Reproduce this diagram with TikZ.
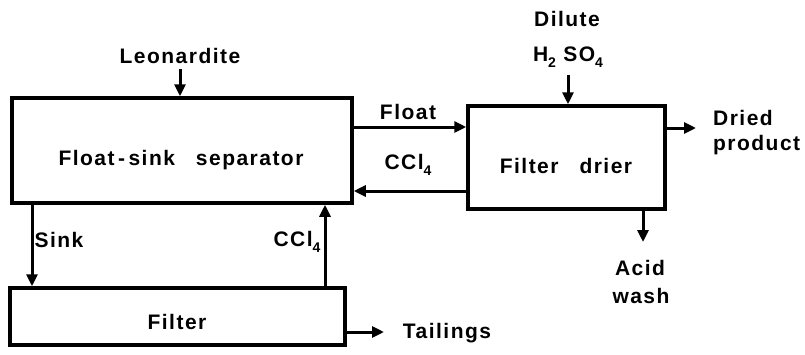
\documentclass[tikz,border=0pt]{standalone}
\usepackage{fontspec}
\setmainfont{Liberation Sans}[LetterSpace=7]
\usetikzlibrary{arrows.meta}
\newcommand{\subsc}[1]{\raisebox{-0.5ex}{\fontsize{14}{14}\selectfont #1}}
\begin{document}
\begin{tikzpicture}[x=1pt,y=-1pt,
  box/.style={draw,line width=3.5pt,inner sep=0pt},
  flow/.style={line width=3pt,-{Triangle[length=12pt,width=11pt]}},
  lbl/.style={font=\fontsize{21}{24}\selectfont\bfseries,inner sep=0pt,align=left}]
\useasboundingbox (0,0) rectangle (805,354);
% boxes
\node[box,minimum width=340pt,minimum height=105pt] (sep) at (182,150.5) {};
\node[box,minimum width=197pt,minimum height=103pt] (drier) at (566.5,157.5) {};
\node[box,minimum width=335pt,minimum height=57pt] (filt) at (177.5,316.5) {};
% box texts
\node[lbl] (sepT) at (181,160) {Float\,-\,sink\quad separator};
\node[lbl] (drierT) at (566,166) {Filter\quad drier};
\node[lbl] (filtT) at (177,322) {Filter};
% outside labels
\node[lbl] (leo) at (180,56) {Leonardite};
\coordinate (leoA) at (180,69);
\node[lbl] (dil) at (567,19) {Dilute};
\node[lbl] (h2) at (568,57) {H\subsc{2} SO\subsc{4}};
\coordinate (h2A) at (568,75);
\node[lbl] (flt) at (408,112) {Float};
\node[lbl] (ccl) at (408,165) {CCl\subsc{4}};
\node[lbl,anchor=west] (dr1) at (713,118) {Dried};
\node[lbl,anchor=west] (dr2) at (713,145) {product};
\coordinate (drA) at (696,128);
\node[lbl] (acid) at (640,268) {Acid};
\node[lbl] (wash) at (641,296) {wash};
\coordinate (acidA) at (643,242);
\node[lbl] (sink) at (59,240) {Sink};
\node[lbl] (ccl2) at (297,242) {CCl\subsc{4}};
\node[lbl] (tail) at (447,333) {Tailings};
\coordinate (tailA) at (384,332);
% connectors
\draw[flow] (leoA) -- (leoA |- sep.north);
\draw[flow] (h2A) -- (h2A |- drier.north);
\draw[flow] (sep.east |- 0,127) -- (drier.west |- 0,127);
\draw[flow] (drier.west |- 0,191) -- (sep.east |- 0,191);
\draw[flow] (drier.east |- drA) -- (drA);
\draw[flow] (acidA |- drier.south) -- (acidA);
\draw[flow] (sep.south -| 32,0) -- (filt.north -| 32,0);
\draw[flow] (filt.north -| 325,0) -- (sep.south -| 325,0);
\draw[flow] (filt.east |- tailA) -- (tailA);
\end{tikzpicture}
\end{document}
